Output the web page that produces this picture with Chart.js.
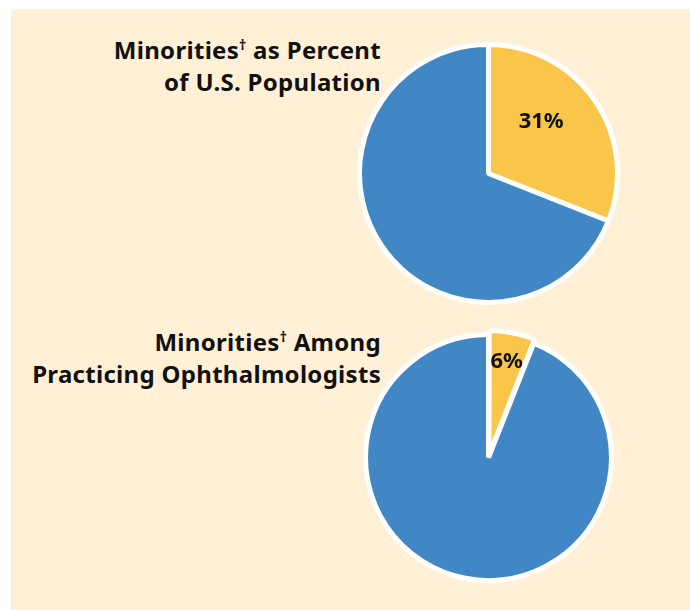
<!DOCTYPE html>
<html>
<head>
<meta charset="utf-8">
<title>Minorities pie charts</title>
<script src="https://cdn.jsdelivr.net/npm/chart.js@4.4.1/dist/chart.umd.min.js"></script>
<style>
  html, body { margin: 0; padding: 0; background: #ffffff; }
  body { width: 690px; height: 610px; position: relative; overflow: hidden; }
  #panel { position: absolute; left: 11px; top: 9px; width: 679px; height: 601px; background: #fff0d6; }
  .titulo {
    position: absolute; left: 0; width: 381px; text-align: right;
    font-family: "Noto Sans", sans-serif; font-weight: 700; font-size: 24px;
    letter-spacing: 0.3px; line-height: 28px; color: #111111; white-space: nowrap;
  }
  .titulo sup { font-size: 14px; vertical-align: 0; position: relative; top: -9px; }
  #titulo1 { top: 36px; }
  #titulo2 { top: 328px; }
  .pie { position: absolute; }
  #pie1 { left: 357px; top: 42px; width: 263px; height: 263px; }
  #pie2 { left: 358px; top: 327px; width: 261px; height: 261px; }
</style>
</head>
<body>
<div id="panel"></div>
<div class="titulo" id="titulo1">Minorities<sup>†</sup> as Percent<br>of U.S. Population</div>
<div class="titulo" id="titulo2">Minorities<sup>†</sup> Among<br>Practicing Ophthalmologists</div>
<div class="pie" id="pie1"><canvas id="grafico1" width="263" height="263"></canvas></div>
<div class="pie" id="pie2"><canvas id="grafico2" width="261" height="261"></canvas></div>

<script>
/*
* Datos
*/
const categorias = ['Minorities', 'Non-minorities'];
const poblacionEEUU = [31, 69];
const oftalmologos = [6, 94];
const colores = ['#f9c64a', '#4187c6'];

/*
* Etiqueta de porcentaje sobre la rebanada amarilla
*/
const etiquetaPorcentaje = {
    id: 'etiquetaPorcentaje',
    afterDatasetsDraw(chart, args, opts) {
        const arc = chart.getDatasetMeta(0).data[0];
        const valor = chart.data.datasets[0].data[0];
        const desplaz = (arc.options.offset || 0) / 4;
        const medio = (arc.startAngle + arc.endAngle) / 2;
        const ang = arc.startAngle + (arc.endAngle - arc.startAngle) * opts.fraccionAngulo;
        const r = arc.outerRadius * opts.fraccionRadio;
        const x = arc.x + Math.cos(medio) * desplaz + Math.cos(ang) * r;
        const y = arc.y + Math.sin(medio) * desplaz + Math.sin(ang) * r;
        const ctx = chart.ctx;
        ctx.save();
        ctx.font = '700 22px "Noto Sans", sans-serif';
        ctx.fillStyle = '#111111';
        ctx.textAlign = 'center';
        ctx.textBaseline = 'middle';
        ctx.fillText(valor + '%', x, y);
        ctx.restore();
    }
};

function crearPie(idCanvas, valores, desplazamiento, fraccionAngulo, fraccionRadio) {
    let ctx = document.getElementById(idCanvas).getContext('2d');
    return new Chart(ctx, {
        type: 'pie',
        data: {
            labels: categorias,
            datasets: [{
                data: valores,
                backgroundColor: colores,
                borderColor: '#ffffff',
                borderWidth: 5,
                offset: [desplazamiento, 0],
                hoverOffset: 0
            }]
        },
        options: {
            responsive: false,
            animation: false,
            events: [],
            layout: { padding: 0 },
            plugins: {
                legend: { display: false },
                tooltip: { enabled: false },
                etiquetaPorcentaje: { fraccionAngulo: fraccionAngulo, fraccionRadio: fraccionRadio }
            }
        },
        plugins: [etiquetaPorcentaje]
    });
}

crearPie('grafico1', poblacionEEUU, 0, 0.41, 0.57);
crearPie('grafico2', oftalmologos, 10, 0.5, 0.77);
</script>
</body>
</html>
